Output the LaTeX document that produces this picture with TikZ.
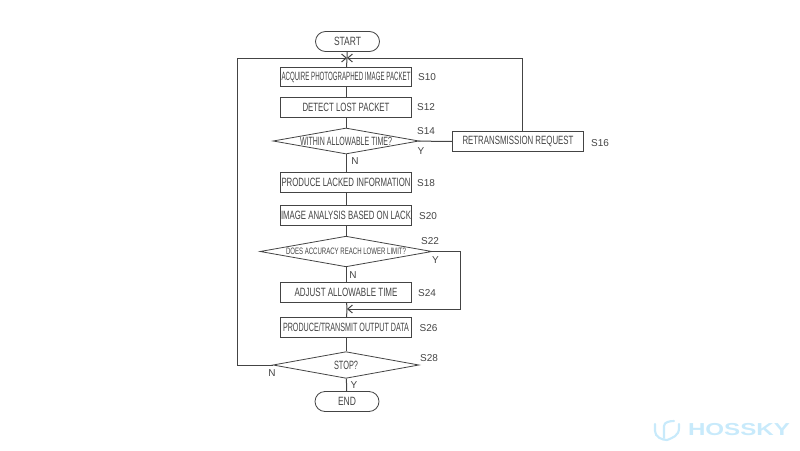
\documentclass[tikz,border=0pt]{standalone}
\usepackage{graphicx}
\usepackage{fontspec}
\setmainfont{Liberation Sans}
\usetikzlibrary{shapes.geometric, shapes.misc, arrows.meta}
\definecolor{linegray}{HTML}{444444}
\definecolor{wmblue}{HTML}{C8EAFB}
\newcommand{\squeeze}[2]{\resizebox{\dimexpr #1pt*3/4\relax}{\height}{#2}}
\tikzset{
  every node/.style={text=linegray, font=\fontsize{9}{10}\selectfont},
  flowline/.style={draw=linegray, line width=0.75pt},
  flowarrow/.style={flowline, -{Straight Barb[length=3.5pt, width=6pt]}},
  stepbox/.style={draw=linegray, line width=0.6pt, rectangle, minimum width=98pt, minimum height=14.5pt, inner sep=0pt, fill=white},
  checkbox/.style={draw=linegray, line width=0.6pt, diamond, inner sep=0pt, fill=white},
  endbox/.style={draw=linegray, line width=0.6pt, rounded rectangle, minimum width=48pt, minimum height=15pt, inner sep=0pt, fill=white},
  tag/.style={font=\fontsize{7.5}{8}\selectfont, inner sep=0pt},
  small tag/.style={font=\fontsize{7.5}{8}\selectfont, inner sep=0pt}
}
\begin{document}
\begin{tikzpicture}[x=0.75pt, y=-0.75pt]
  \useasboundingbox (0,0) rectangle (800,450);
  % main column
  \node[endbox] (start) at (347.5,41.5) {\squeeze{27}{START}};
  \coordinate (merge) at (347,58);
  \node[stepbox] (s10) at (346,77) {\squeeze{129}{ACQUIRE PHOTOGRAPHED IMAGE PACKET}};
  \node[stepbox] (s12) at (346,107.5) {\squeeze{87}{DETECT LOST PACKET}};
  \node[checkbox, minimum width=109.5pt, minimum height=19.5pt, shape aspect=5.6] (s14) at (346,141) {\squeeze{92}{WITHIN ALLOWABLE TIME?}};
  \node[stepbox] (s18) at (346,182.5) {\squeeze{129}{PRODUCE LACKED INFORMATION}};
  \node[stepbox] (s20) at (346,215.5) {\squeeze{130}{IMAGE ANALYSIS BASED ON LACK}};
  \node[checkbox, minimum width=129pt, minimum height=23pt, shape aspect=5.5, font=\fontsize{7}{8}\selectfont] (s22) at (346,251.5) {\squeeze{120}{DOES ACCURACY REACH LOWER LIMIT?}};
  \node[stepbox] (s24) at (346,292.5) {\squeeze{103}{ADJUST ALLOWABLE TIME}};
  \coordinate (join) at (347,309);
  \node[stepbox] (s26) at (346,327.5) {\squeeze{126}{PRODUCE/TRANSMIT OUTPUT DATA}};
  \node[checkbox, minimum width=109.5pt, minimum height=20pt, shape aspect=5.4] (s28) at (346,365) {\squeeze{24}{STOP?}};
  \node[endbox] (end) at (347,401.5) {\squeeze{18}{END}};
  % side box
  \node[stepbox] (s16) at (518,141.5) {\squeeze{111}{RETRANSMISSION REQUEST}};
  \coordinate (up16) at (522,132);
  % step numbers
  \node[tag] (t10) at (427,77) {S10};
  \node[tag] (t12) at (426,107.5) {S12};
  \node[tag] (t14) at (426,131) {S14};
  \node[tag] (t16) at (600,143) {S16};
  \node[tag] (t18) at (426,183.5) {S18};
  \node[tag] (t20) at (428,216) {S20};
  \node[tag] (t22) at (430,241) {S22};
  \node[tag] (t24) at (427,293) {S24};
  \node[tag] (t26) at (428.5,328.5) {S26};
  \node[tag] (t28) at (429,358.5) {S28};
  % branch letters
  \node[small tag] (y14) at (421,151) {Y};
  \node[small tag] (n14) at (355,161) {N};
  \node[small tag] (y22) at (435.5,260) {Y};
  \node[small tag] (n22) at (353,275.5) {N};
  \node[small tag] (n28) at (272,373.5) {N};
  \node[small tag] (y28) at (354,385) {Y};
  % connectors
  \draw[flowline] (start) -- (merge) -- (s10);
  \draw[flowline] (s10) -- (s12);
  \draw[flowline] (s12) -- (s14);
  \draw[flowline] (s14) -- (s18);
  \draw[flowline] (s14) -- (s16);
  \draw[flowline] (s18) -- (s20);
  \draw[flowline] (s20) -- (s22);
  \draw[flowline] (s22) -- (s24);
  \draw[flowline] (s24) -- (join) -- (s26);
  \draw[flowline] (s26) -- (s28);
  \draw[flowline] (s28) -- (end);
  \draw[flowarrow] (up16) |- (merge);
  \draw[flowarrow] (s28.west) -- (237,365) |- (merge);
  \draw[flowarrow] (s22.east) -- (460,251.5) |- (join);
  % watermark
  \draw[wmblue, line width=1.6pt, line cap=round] (655,424) -- (655,431) .. controls (655,437) and (662,440) .. (667,440) .. controls (672,438) and (679,436) .. (679,428) -- (679,424);
  \draw[wmblue, line width=1.6pt, line cap=round] (664,438) -- (664,426) .. controls (664,422) and (670,421) .. (674,421);
  \node[inner sep=0pt, text=wmblue, font=\bfseries\fontsize{13}{14}\selectfont] (mark) at (739,430) {\resizebox{76.5pt}{\height}{HOSSKY}};
\end{tikzpicture}
\end{document}
